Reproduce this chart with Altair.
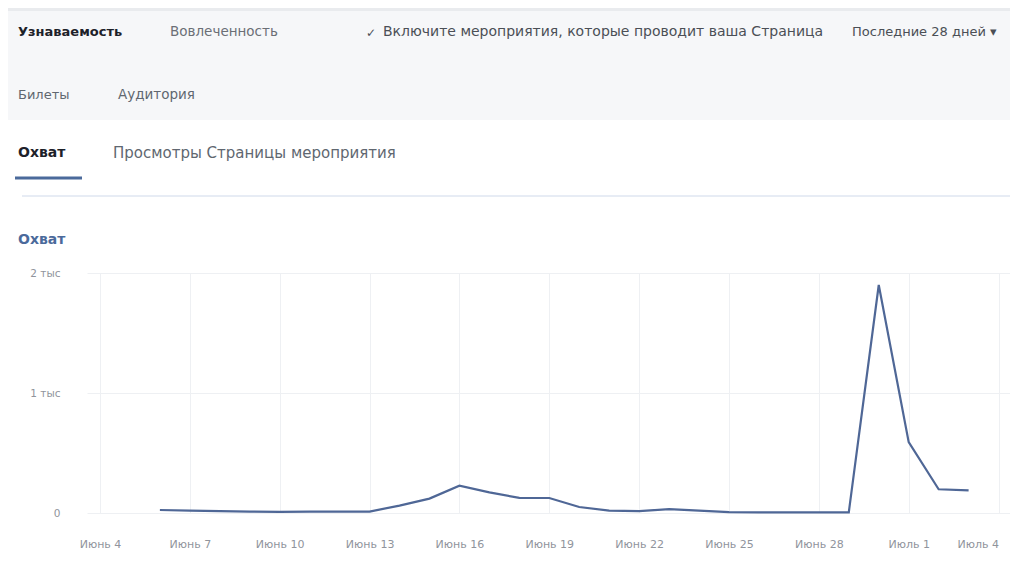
import altair as alt
import pandas as pd

# ---- data ----
dates = [
    "2018-06-06", "2018-06-07", "2018-06-08", "2018-06-09", "2018-06-10",
    "2018-06-11", "2018-06-12", "2018-06-13", "2018-06-14", "2018-06-15",
    "2018-06-16", "2018-06-17", "2018-06-18", "2018-06-19", "2018-06-20",
    "2018-06-21", "2018-06-22", "2018-06-23", "2018-06-24", "2018-06-25",
    "2018-06-26", "2018-06-27", "2018-06-28", "2018-06-29", "2018-06-30",
    "2018-07-01", "2018-07-02", "2018-07-03",
]
reach = [
    25, 20, 15, 12, 10,
    12, 12, 12, 62, 120,
    228, 172, 126, 125, 50,
    20, 15, 32, 20, 8,
    6, 6, 6, 6, 1900,
    590, 198, 188,
]
tick_dates = [
    "2018-06-04", "2018-06-07", "2018-06-10", "2018-06-13", "2018-06-16",
    "2018-06-19", "2018-06-22", "2018-06-25", "2018-06-28", "2018-07-01",
    "2018-07-04",
]
y_ticks = [0, 1000, 2000]

df = pd.DataFrame({"date": dates, "reach": reach})
tick_ms = [int(pd.Timestamp(d, tz="UTC").value // 1_000_000) for d in tick_dates]

FONT = "DejaVu Sans"
GRID = "#eef0f3"
LABEL = "#90949c"
LINE = "#4f6796"

# plot area sits at page x=87..1010, y=273..513 ; header items positioned relative to it
def px(page_x):
    return page_x - 87

def py(page_y):
    return page_y - 273

one = pd.DataFrame({"k": [0]})
base = alt.Chart(one)

header_bg = base.mark_rect(color="#f6f7f9").encode(
    x=alt.value(px(8)), x2=alt.value(px(1010)),
    y=alt.value(py(8)), y2=alt.value(py(120)),
)
header_top = base.mark_rect(color="#e9ebee").encode(
    x=alt.value(px(8)), x2=alt.value(px(1010)),
    y=alt.value(py(8)), y2=alt.value(py(11)),
)

def txt(s, x, y, size=12, color="#4b4f56", weight="normal"):
    return base.mark_text(
        text=s, align="left", baseline="middle", font=FONT,
        fontSize=size, color=color, fontWeight=weight,
    ).encode(x=alt.value(px(x)), y=alt.value(py(y)))

texts = [
    txt("Узнаваемость", 18, 32, 13, "#1d2129", "bold"),
    txt("Вовлеченность", 170, 32, 13.5, "#6b6f76"),
    txt("✓", 366, 33, 12, "#4b4f56"),
    txt("Включите мероприятия, которые проводит ваша Страница", 383, 32, 14, "#4b4f56"),
    txt("Последние 28 дней ▾", 852, 32, 13, "#4b4f56"),
    txt("Билеты", 18, 95, 13, "#606770"),
    txt("Аудитория", 118, 95, 13.5, "#606770"),
    txt("Охват", 18, 153, 14, "#1d2129", "bold"),
    txt("Просмотры Страницы мероприятия", 113, 153, 15, "#606770"),
    txt("Охват", 18, 240, 14, "#4b6a9b", "bold"),
]

underline = base.mark_rule(color="#4b6a9b", strokeWidth=3).encode(
    x=alt.value(px(15)), x2=alt.value(px(82)), y=alt.value(py(178)),
)
separator = base.mark_rule(color="#cfd9ea", strokeWidth=1).encode(
    x=alt.value(px(22)), x2=alt.value(px(1010)), y=alt.value(py(196)),
)

line = alt.Chart(df).mark_line(color=LINE, strokeWidth=2.2).encode(
    x=alt.X(
        "date:T",
        scale=alt.Scale(
            type="utc",
            domain=[
                alt.DateTime(year=2018, month=6, date=3, hours=13, minutes=36, utc=True),
                alt.DateTime(year=2018, month=7, date=4, hours=9, minutes=10, utc=True),
            ],
        ),
        axis=alt.Axis(
            values=tick_ms,
            labelExpr="(utcmonth(datum.value) == 5 ? 'Июнь ' : 'Июль ') + utcdate(datum.value)",
            title=None, domain=False, ticks=False,
            grid=True, gridColor=GRID, gridWidth=1,
            labelColor=LABEL, labelFont=FONT, labelFontSize=11,
            labelPadding=25, labelFlush=12, labelOverlap=False,
        ),
    ),
    y=alt.Y(
        "reach:Q",
        scale=alt.Scale(domain=[0, 2000], nice=False),
        axis=alt.Axis(
            values=y_ticks,
            labelExpr="datum.value == 0 ? '0' : (datum.value / 1000) + ' тыс'",
            title=None, domain=False, ticks=False,
            grid=True, gridColor=GRID, gridWidth=1,
            labelColor=LABEL, labelFont=FONT, labelFontSize=10.5,
            labelPadding=27,
        ),
    ),
)

chart = alt.layer(header_bg, header_top, *texts, underline, separator, line).properties(
    width=923, height=240,
    autosize=alt.AutoSizeParams(type="none"),
    padding={"left": 79, "top": 265, "right": 0, "bottom": 51},
    background="white",
).configure_view(stroke=None)

chart.save("out.html", embed_options={"renderer": "svg", "actions": False})
